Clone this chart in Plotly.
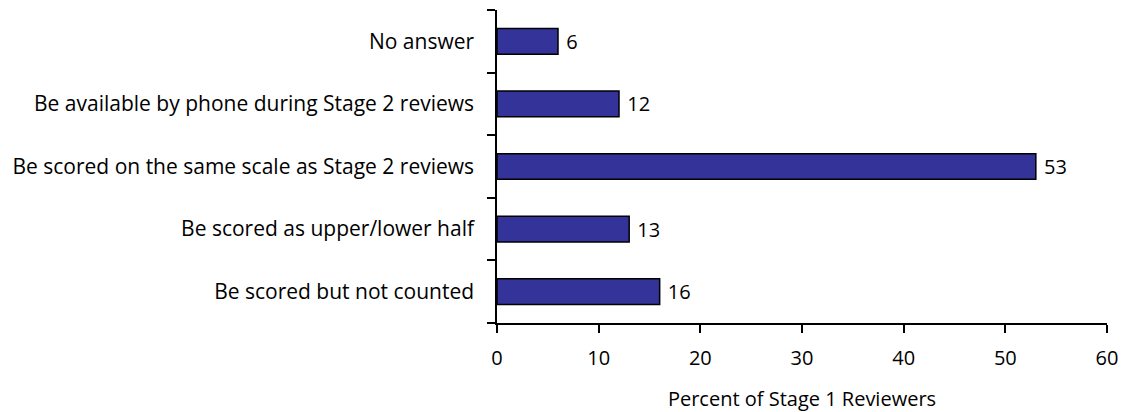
import plotly.graph_objects as go

categories = [
    "No answer",
    "Be available by phone during Stage 2 reviews",
    "Be scored on the same scale as Stage 2 reviews",
    "Be scored as upper/lower half",
    "Be scored but not counted",
]
values = [6, 12, 53, 13, 16]
x_ticks = [0, 10, 20, 30, 40, 50, 60]

FONT = "Open Sans"
FS = 20

fig = go.Figure(
    go.Bar(
        y=categories,
        x=values,
        orientation="h",
        width=0.41,
        marker=dict(color="#333399", line=dict(color="black", width=1.5)),
        texttemplate=" %{x}",
        textposition="outside",
        textfont=dict(family=FONT, size=FS, color="black"),
        cliponaxis=False,
    )
)

fig.update_layout(
    width=1121,
    height=412,
    margin=dict(l=497, r=14, t=10, b=89),
    plot_bgcolor="white",
    paper_bgcolor="white",
    showlegend=False,
    font=dict(family=FONT, size=FS, color="black"),
    uniformtext=dict(minsize=FS, mode="show"),
)

fig.update_xaxes(
    range=[0, 60],
    tickvals=x_ticks,
    ticks="outside",
    ticklen=8,
    tickwidth=1.5,
    tickcolor="black",
    showline=True,
    linecolor="black",
    linewidth=1.5,
    showgrid=False,
    zeroline=False,
    automargin=False,
    ticklabelstandoff=8,
    tickfont=dict(family=FONT, size=FS),
    title=dict(text="Percent of Stage 1 Reviewers", standoff=22, font=dict(family=FONT, size=FS)),
)

fig.update_yaxes(
    categoryorder="array",
    categoryarray=categories[::-1],
    tickson="boundaries",
    ticks="outside",
    ticklen=8,
    tickwidth=1.5,
    tickcolor="black",
    showline=True,
    linecolor="black",
    linewidth=1.5,
    showgrid=False,
    zeroline=False,
    automargin=False,
    ticklabelstandoff=17,
    tickfont=dict(family=FONT, size=21),
)

fig.write_html(
    "out.html",
    config={"displayModeBar": False},
    post_script="document.body.style.margin='0';document.body.style.overflow='hidden';",
)
